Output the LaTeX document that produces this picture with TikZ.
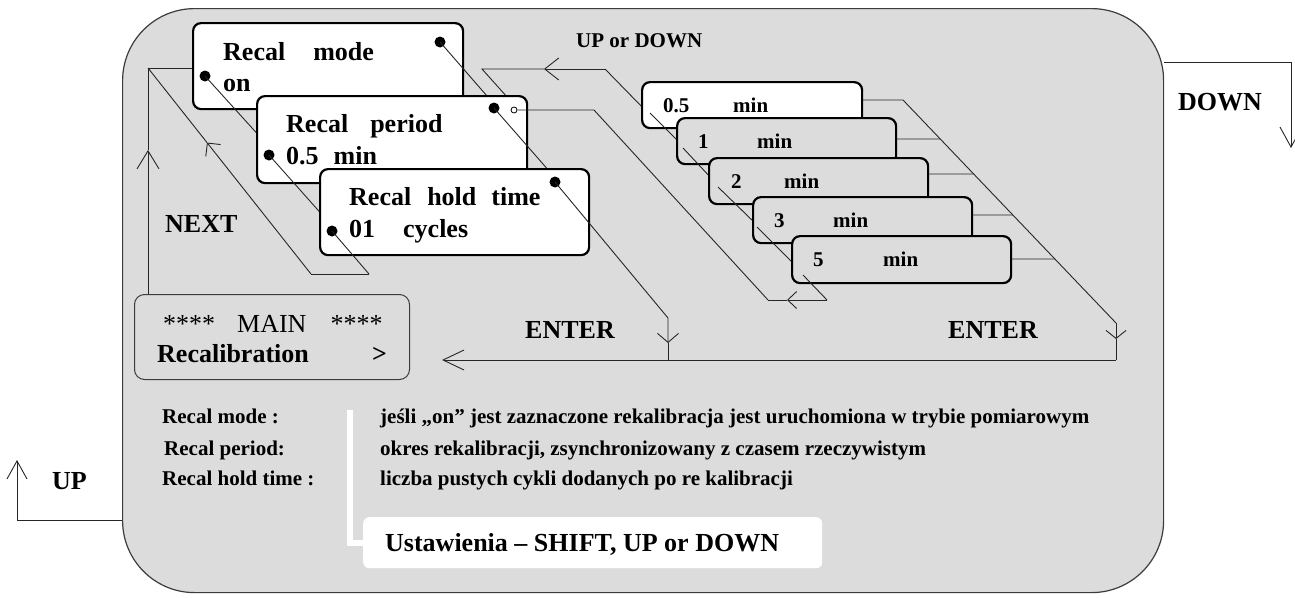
\documentclass[tikz,border=0pt]{standalone}
\usepackage{fontspec}
\setmainfont{Liberation Serif}
\usetikzlibrary{arrows.meta,calc}

\definecolor{panel}{RGB}{220,220,220}
\definecolor{edge}{RGB}{60,60,60}

\tikzset{
  wire/.style={draw=black!85, line width=0.9pt},
  barb/.style 2 args={-{Straight Barb[length=#1pt,width=#2pt]}},
  card/.style={draw=black, line width=2.2pt, rounded corners=8pt, fill=white,
               inner sep=0pt, anchor=north west},
  graycard/.style={card, fill=panel},
  dot/.style={circle, fill=black, inner sep=0pt, minimum size=11pt},
  ring/.style={circle, draw=black, fill=white, line width=0.8pt, inner sep=0pt, minimum size=6pt},
  big/.style={font=\fontsize{26}{30}\selectfont\bfseries, inner sep=0pt, anchor=base west},
  bigreg/.style={font=\fontsize{26}{30}\selectfont, inner sep=0pt, anchor=base west},
  small/.style={font=\fontsize{21}{25}\selectfont\bfseries, inner sep=0pt, anchor=base west},
}

\begin{document}
\begin{tikzpicture}[x=1pt,y=-1pt]
\useasboundingbox (0,0) rectangle (1295,597);

% ---------- grey panel ----------
\node[draw=edge, fill=panel, line width=1.2pt, rounded corners=72pt,
      minimum width=1041pt, minimum height=584pt, anchor=north west, inner sep=0pt]
      (panel) at (122,8) {};

% ---------- DOWN / UP outside the panel ----------
\coordinate (dn1) at (1291,62);
\coordinate (dn2) at (1291,148);
\draw[wire, barb={20}{22}] (panel.east |- dn1) -- (dn1) -- (dn2);
\node[big] (downlbl) at (1178,110) {DOWN};

\coordinate (up1) at (17,520);
\coordinate (up2) at (17,460);
\draw[wire, barb={18}{20}] (panel.west |- up1) -- (up1) -- (up2);
\node[big] (uplbl) at (52,489) {UP};

% ---------- main menu box ----------
\node[draw=edge, fill=panel, line width=1pt, rounded corners=10pt,
      minimum width=275pt, minimum height=85pt, anchor=north west, inner sep=0pt]
      (main) at (134,294) {};
\node[bigreg] (mainA) at (163,332) {****\hspace{22pt}MAIN\hspace{24pt}****};
\node[big] (mainB) at (157,362) {Recalibration};
\node[big] (mainC) at (372,362) {>};

% ---------- NEXT loop ----------
\coordinate (nxTop) at (148,68);
\coordinate (nxUp) at (148,150);
\coordinate (nxD) at (311,274);
\coordinate (nxE) at (369,274);
\coordinate (nxMid) at ($(nxTop)!0.362!(nxD)$);
\draw[wire, barb={18}{22}] (main.north -| nxTop) -- (nxUp);
\draw[wire] (nxUp) -- (nxTop) -- (192,68);
\draw[wire, barb={9.4}{19}] (nxD) -- (nxMid);
\draw[wire] (nxMid) -- (nxTop);
\draw[wire] (nxD) -- (nxE);
\node[big] (nextlbl) at (165,232) {NEXT};

% ---------- Recal mode ----------
\node[card, minimum width=270pt, minimum height=86pt] (b1) at (192,22) {};
\node[big] (b1t) at (223,60) {Recal\hspace{28pt}mode};
\node[big] (b1v) at (223,91) {on};
\node[dot] (d1a) at (440,42) {};
\node[dot] (d1b) at (205,76) {};
\coordinate (d1aEnd) at (487,96);
\coordinate (d1bEnd) at (262,139);
\draw[wire] (d1a.center) -- (d1aEnd);
\draw[wire] (d1b.center) -- (d1bEnd);

% ---------- UP or DOWN return line ----------
\coordinate (ud0) at (508,98);
\coordinate (ud1) at (482,69);
\coordinate (udM) at (544,69);
\coordinate (ud2) at (605,69);
\coordinate (ud3) at (646,111);
\draw[wire, barb={14}{22}] (ud2) -- (udM);
\draw[wire] (udM) -- (ud1) -- (ud0);
\draw[wire] (ud2) -- (ud3);
\node[small] (udlbl) at (576,47) {UP or DOWN};

% ---------- Recal period ----------
\node[card, minimum width=270pt, minimum height=87pt] (b2) at (256,95) {};
\node[big] (b2t) at (286,132) {Recal\hspace{22pt}period};
\node[big] (b2v) at (286,164) {0.5\hspace{15pt}min};
\node[dot] (d2a) at (494,108) {};
\node[dot] (d2b) at (269,155) {};
\node[ring] (c2) at (514,110) {};
\coordinate (d2aEnd) at (550,172);
\coordinate (d2bEnd) at (325,218);
\draw[wire] (d2a.center) -- (d2aEnd);
\draw[wire] (d2b.center) -- (d2bEnd);

% ---------- Recal hold time ----------
\node[card, minimum width=269pt, minimum height=86pt] (b3) at (319,168) {};
\node[big] (b3t) at (349,205) {Recal\hspace{16pt}hold\hspace{15pt}time};
\node[big] (b3v) at (349,237) {01\hspace{28pt}cycles};
\node[dot] (d3a) at (555,182) {};
\node[dot] (d3b) at (332,231) {};
\draw[wire] (d3b.center) -- (nxE);

% ---------- first ENTER path ----------
\coordinate (en0) at (668,318);
\coordinate (enM) at (668,343);
\coordinate (en1) at (668,360);
\draw[wire, barb={9}{21}] (d3a.center) -- (en0) -- (enM);
\draw[wire] (enM) -- (en1);
\node[big] (enter1) at (525,338) {ENTER};

% ---------- period value loop ----------
\coordinate (cA) at (594,110);
\coordinate (cB) at (768,300);
\coordinate (cM) at (787,300);
\coordinate (cC) at (827,300);
\draw[wire] (c2.east) -- (cA) -- (cB);
\draw[wire, barb={9}{17}] (cC) -- (cM);
\draw[wire] (cM) -- (cB);

% ---------- period values ----------
\node[card, minimum width=220pt, minimum height=46pt] (m05) at (641,81) {};
\node[small] (m05a) at (663,112) {0.5};
\node[small] (m05b) at (733,112) {min};
\draw[wire] (650,113) -- (680,143);

\node[graycard, minimum width=219pt, minimum height=46pt] (m1) at (676,117) {};
\node[small] (m1a) at (698,148) {1};
\node[small] (m1b) at (757,148) {min};
\draw[wire] (683,148) -- (712,179);

\node[graycard, minimum width=219pt, minimum height=46pt] (m2) at (708,157) {};
\node[small] (m2a) at (731,188) {2};
\node[small] (m2b) at (784,188) {min};
\draw[wire] (718,187) -- (756,224);

\node[graycard, minimum width=219pt, minimum height=46pt] (m3) at (752,196) {};
\node[small] (m3a) at (774,227) {3};
\node[small] (m3b) at (833,227) {min};
\draw[wire] (757,227) -- (794,264);

\node[graycard, minimum width=219pt, minimum height=47pt] (m5) at (791,235) {};
\node[small] (m5a) at (813,266) {5};
\node[small] (m5b) at (883,266) {min};
\draw[wire] (803,275) -- (cC);

% ---------- second ENTER path ----------
\coordinate (r1) at (903,100);
\coordinate (r2) at (1116,323);
\coordinate (rM) at (1116,339);
\coordinate (r3) at (1116,360);
\coordinate (bL) at (442,360);
\draw[wire] (m05.east |- r1) -- (r1) -- (r2);
\draw[wire] (m1.east |- 0,139) -- ($(r1)!0.1749!(r2)$);
\draw[wire] (m2.east |- 0,174) -- ($(r1)!0.3318!(r2)$);
\draw[wire] (m3.east |- 0,215) -- ($(r1)!0.5157!(r2)$);
\draw[wire] (m5.east |- 0,259) -- ($(r1)!0.7130!(r2)$);
\draw[wire, barb={8}{20}] (r2) -- (rM);
\draw[wire] (rM) -- (r3);
\draw[wire, barb={21}{20}] (r3) -- (bL);
\node[big] (enter2) at (948,338) {ENTER};

% ---------- explanations ----------
\node[small] (k1) at (162,423) {Recal mode :};
\node[small] (k2) at (164,455) {Recal period:};
\node[small] (k3) at (162,485) {Recal hold time :};
\node[small] (v1) at (380,423) {jeśli „on” jest zaznaczone rekalibracja jest uruchomiona w trybie pomiarowym};
\node[small] (v2) at (380,455) {okres rekalibracji, zsynchronizowany z czasem rzeczywistym};
\node[small] (v3) at (380,485) {liczba pustych cykli dodanych po re kalibracji};

\node[fill=white, rounded corners=6pt, minimum width=459pt, minimum height=51pt,
      anchor=north west, inner sep=0pt] (note) at (363,517) {};
\draw[white, line width=6pt] (350,410) |- (note.west);
\node[big] (notet) at (385,551) {Ustawienia – SHIFT, UP or DOWN};
\end{tikzpicture}
\end{document}
